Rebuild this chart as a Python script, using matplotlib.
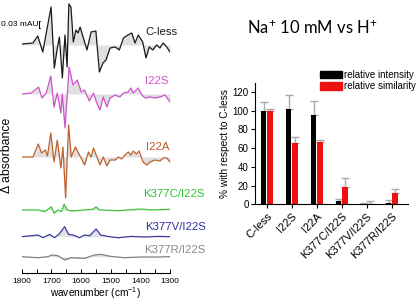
import matplotlib.pyplot as plt
from matplotlib.ticker import MultipleLocator
from matplotlib.patches import Patch

plt.rcParams['font.family'] = ['Liberation Sans', 'DejaVu Sans']
plt.rcParams['mathtext.fontset'] = 'custom'
plt.rcParams['mathtext.rm'] = 'Liberation Sans'
plt.rcParams['mathtext.it'] = 'Liberation Sans:italic'

# ---- difference spectra (arbitrary units) ----
cless_wn = [1800, 1762, 1746, 1729, 1701, 1690, 1681, 1673, 1663, 1654,
            1647, 1641, 1634, 1626, 1617, 1610, 1603, 1593, 1580, 1566,
            1550, 1538, 1526, 1516, 1502, 1485, 1471, 1457, 1442, 1429,
            1418, 1407, 1392, 1381, 1370, 1358, 1345, 1334, 1323, 1311, 1300]
cless_val = [1, 2, 9, -7, 38, -23, -5, 8, -33, 10,
             -22, 41, 38, 3, 15, 12, 18, 8, -5, 13,
             14, -27, -18, -15, -3, -2, -5, 7, 10, 12,
             2, 10, 3, -13, -2, -5, 0, -3, 2, -2, -7]

i22s_wn = [1800, 1768, 1743, 1732, 1717, 1702, 1691, 1680, 1668, 1663,
           1654, 1640, 1627, 1613, 1599, 1588, 1572, 1558, 1547, 1536,
           1525, 1513, 1502, 1485, 1469, 1457, 1441, 1432, 1424, 1407,
           1395, 1384, 1367, 1351, 1334, 1317, 1300]
i22s_val = [0, 1, 7, -4, 1, 18, -13, 1, -19, 0,
            -34, 27, 9, 14, 2, 4, -7, 1, -9, -16,
            -3, -13, -4, -1, -3, 1, 2, 6, 1, 6,
            -1, -4, -3, -4, -3, -1, -8]

i22a_wn = [1800, 1762, 1744, 1733, 1720, 1713, 1702, 1691, 1680, 1668,
           1661, 1652, 1642, 1633, 1619, 1605, 1588, 1575, 1566, 1558,
           1536, 1525, 1513, 1502, 1485, 1474, 1463, 1452, 1441, 1432,
           1424, 1413, 1404, 1391, 1379, 1367, 1351, 1334, 1323, 1311, 1300]
i22a_val = [0, 0, 13, 4, 7, 1, 24, -5, 17, -11,
            10, -41, 32, 0, 10, 2, -8, 5, 0, 9,
            -8, 0, -9, -3, -3, 0, -2, 2, 5, 2,
            6, 3, 6, -5, -8, -5, -3, -4, -1, -1, -5]

k377c_wn = [1800, 1744, 1722, 1700, 1691, 1677, 1666, 1657, 1646, 1632,
            1588, 1561, 1549, 1537, 1475, 1397, 1363, 1300]
k377c_val = [0, 0, -1.7, 3.3, -3.3, 0, -1.7, 5.7, 0, -1,
             0, 0.7, 3, 0, -0.7, 1, 0, 0.7]

k377v_wn = [1800, 1768, 1745, 1728, 1706, 1689, 1672, 1655, 1642, 1627,
            1605, 1588, 1571, 1549, 1534, 1504, 1475, 1430, 1385, 1340, 1300]
k377v_val = [0, 1, 1.7, -1, 2.3, -1, 3.3, 10, 2.3, 1.7,
             -1, 1.7, 1, 7.7, 1.7, 0, -1, 0.3, -0.3, 0.3, 0]

k377r_wn = [1800, 1745, 1710, 1700, 1678, 1655, 1633, 1588, 1555, 1533,
            1499, 1454, 1397, 1340, 1300]
k377r_val = [0, -1, 0, 1.7, 1, -3.3, -1, -1.7, 1.7, 2.3,
             0.3, -1, -0.3, -0.3, 0]

# ---- bar chart ----
samples = ["C-less", "I22S", "I22A", "K377C/I22S", "K377V/I22S", "K377R/I22S"]
intensity = [100, 102, 96, 3.5, 0.8, 1.7]
intensity_err = [9.5, 15, 14, 2, 1, 3]
similarity = [100, 66, 67, 19, 0.3, 12]
similarity_err = [2, 6, 2, 9, 3, 4.5]

fig = plt.figure(figsize=(4.19, 3.01), dpi=100)
W, H = 419, 301

# left panel: stacked spectra
ax = fig.add_axes([21.7 / W, (H - 273) / H, 148.3 / W, 273 / H])
ax.set_xlim(1800, 1300)
ax.set_ylim(-273, 0)

traces = [
    (cless_wn, cless_val, 45, '#1a1a1a', 'C-less', '#1a1a1a', 1384, 31.7),
    (i22s_wn, i22s_val, 94, '#cc55cc', 'I22S', '#d050d0', 1384, 81),
    (i22a_wn, i22a_val, 157, '#c0622e', 'I22A', '#c05a28', 1381, 146.7),
    (k377c_wn, k377c_val, 210, '#3cc43c', 'K377C/I22S', '#30c030', 1391, 194),
    (k377v_wn, k377v_val, 236.7, '#3a3aa0', 'K377V/I22S', '#2c2ca8', 1384, 227.3),
    (k377r_wn, k377r_val, 256.7, '#808080', 'K377R/I22S', '#888888', 1388, 250),
]
for wn, val, base, col, lab, lcol, lx, ly in traces:
    y = [v - base for v in val]
    ax.fill_between(wn, y, -base, color='#e0e0e0', lw=0, zorder=1)
    ax.plot(wn, y, color=col, lw=0.9, zorder=2)
    ax.text(lx, -ly, lab, color=lcol, fontsize=8.2, ha='left', va='center',
            clip_on=False)

# scale bar 0.03 mAU
ax.plot([1740, 1740], [-20.7, -28.3], color='k', lw=0.7, clip_on=False)
ax.plot([1738, 1742], [-20.7, -20.7], color='k', lw=0.6, clip_on=False)
ax.plot([1738, 1742], [-28.3, -28.3], color='k', lw=0.6, clip_on=False)
ax.text(1744, -25, '0.03 mAU', fontsize=6, ha='right', va='center', clip_on=False)

for s in ['left', 'right', 'top']:
    ax.spines[s].set_visible(False)
ax.spines['bottom'].set_linewidth(0.8)
ax.set_yticks([])
ax.xaxis.set_major_locator(MultipleLocator(100))
ax.xaxis.set_minor_locator(MultipleLocator(50))
ax.tick_params(axis='x', which='both', direction='in', length=3, width=0.7,
               labelsize=6, pad=3.5)
ax.set_xlabel('wavenumber (cm$^{-1}$)', fontsize=7.3, labelpad=0)
fig.text(7 / W, 1 - 155 / H, 'Δ absorbance', rotation=90, fontsize=8.8,
         ha='center', va='center')

# right panel: bars
bx = fig.add_axes([255 / W, (H - 204.3) / H, 153 / W, 121.6 / H])
x = list(range(len(samples)))
w = 0.22
xl = [i - 0.125 for i in x]
xr = [i + 0.125 for i in x]
bx.bar(xl, intensity, width=w, color='black', zorder=2)
bx.bar(xr, similarity, width=w, color='#ee1111', zorder=2)
bx.errorbar(xl, intensity, yerr=[[0] * 6, intensity_err], fmt='none',
            ecolor='#aaaaaa', elinewidth=1, capsize=3, capthick=1, zorder=1)
bx.errorbar(xr, similarity, yerr=[[0] * 6, similarity_err], fmt='none',
            ecolor='#aaaaaa', elinewidth=1, capsize=3, capthick=1, zorder=1)
bx.set_xlim(-0.47, 5.65)
bx.set_ylim(0, 130)
bx.set_yticks(range(0, 121, 20))
bx.set_xticks(x)
bx.set_xticklabels(samples, rotation=45, ha='right', rotation_mode='anchor',
                   fontsize=8)
bx.tick_params(axis='both', direction='out', length=3, width=0.8)
bx.tick_params(axis='y', labelsize=7, pad=1.5)
bx.tick_params(axis='x', pad=2)
for s in ['right', 'top']:
    bx.spines[s].set_visible(False)
for s in ['left', 'bottom']:
    bx.spines[s].set_linewidth(0.8)
bx.set_ylabel('% with respect to C-less', fontsize=7.3, labelpad=2)

handles = [Patch(color='black'), Patch(color='#ee1111')]
fig.legend(handles, ['relative intensity', 'relative similarity'],
           loc='upper left', bbox_to_anchor=(320 / W, 1 - 70 / H),
           frameon=False, fontsize=7, handlelength=2.25, handleheight=0.8,
           handletextpad=0.2, labelspacing=0.15, borderpad=0, borderaxespad=0)

fig.text(312 / W, 1 - 28 / H, r'Na$^{+}$ 10 mM vs H$^{+}$', fontsize=12,
         family='Lato', ha='center', va='center')

fig.savefig('out.png', dpi=100)
